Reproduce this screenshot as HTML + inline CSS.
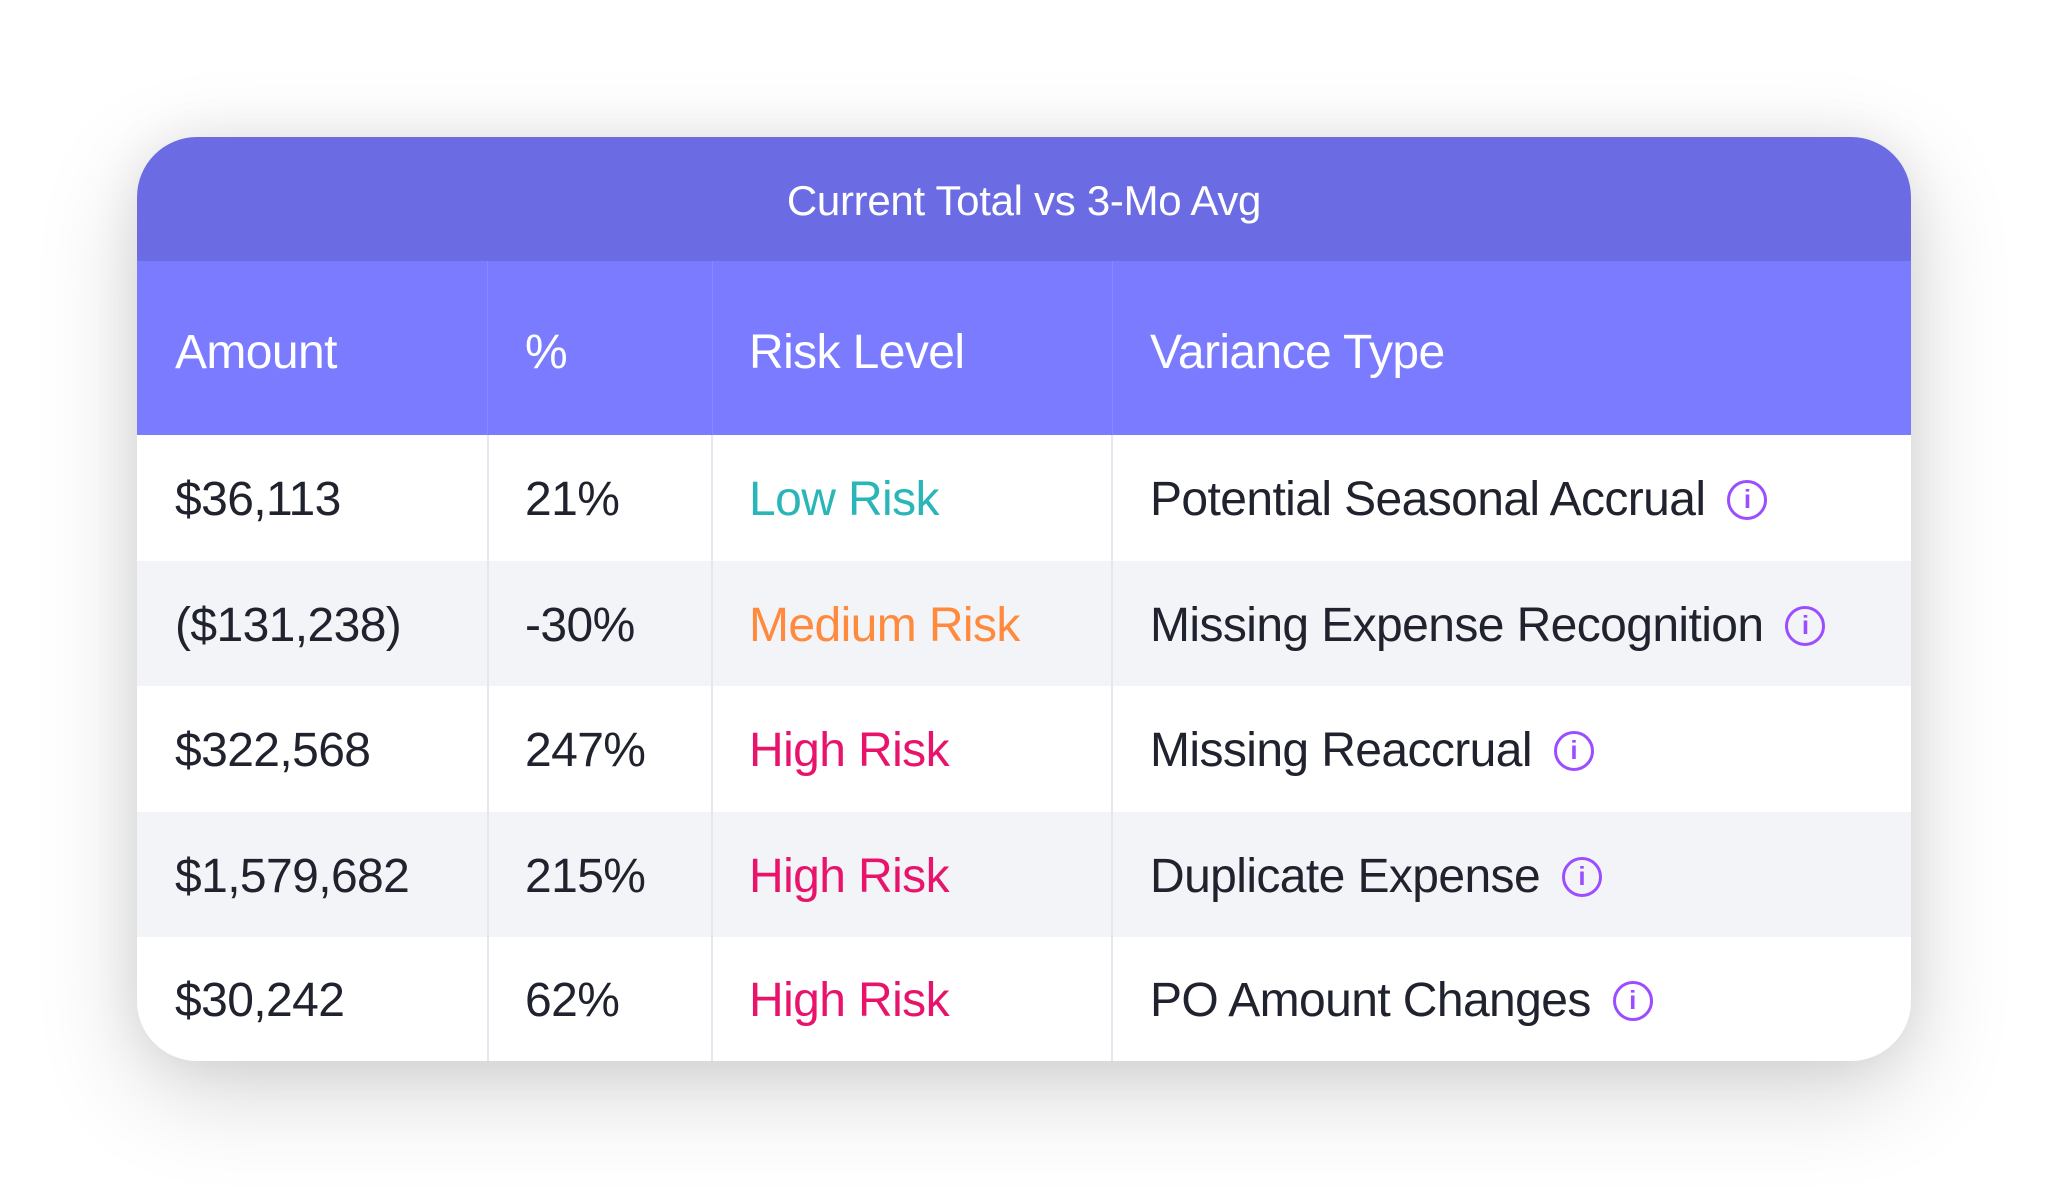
<!DOCTYPE html>
<html><head><meta charset="utf-8"><style>
html,body{margin:0;padding:0;width:2050px;height:1200px;background:#fff;overflow:hidden;font-family:"Liberation Sans",sans-serif;}
.card{position:absolute;left:137px;top:137px;width:1774px;height:924px;border-radius:60px;background:#fff;overflow:hidden;box-shadow:0 30px 100px rgba(0,0,0,0.17),0 0 50px rgba(0,0,0,0.07);}
.title{position:absolute;left:0;top:0;width:1774px;height:124px;background:#6b6ce4;color:#fff;font-size:42px;line-height:128px;text-align:center;letter-spacing:-0.3px;}
.hdr{position:absolute;left:0;top:124px;width:1774px;height:174px;background:#7b7bff;}
.row{position:absolute;left:0;width:1774px;height:125px;}
.alt{background:#f3f4f8;}
.vl{position:absolute;top:298px;width:2px;height:626px;background:#e6e6ee;}
.vh{position:absolute;top:124px;width:1px;height:174px;background:#8a8aff;}
.c{position:absolute;display:flex;align-items:center;font-size:48px;color:#20222e;letter-spacing:-0.6px;white-space:nowrap;}
.h{color:#fff;height:174px;top:128px;}
.low{color:#2ab6b8}.med{color:#ff8a3d}.high{color:#e8146c}
.i{display:inline-block;box-sizing:border-box;width:40px;height:40px;border:3.5px solid #9b4dff;border-radius:50%;color:#9b4dff;font-size:26px;font-weight:bold;line-height:33px;text-align:center;margin-left:22px;letter-spacing:0;}
</style></head><body>
<div class="card">
<div class="title">Current Total vs 3-Mo Avg</div>
<div class="hdr"></div>
<div class="row" style="top:298px"></div>
<div class="row alt" style="top:424px"></div>
<div class="row" style="top:549px"></div>
<div class="row alt" style="top:675px"></div>
<div class="row" style="top:799px"></div>
<div class="vh" style="left:350px"></div>
<div class="vh" style="left:575px"></div>
<div class="vh" style="left:975px"></div>
<div class="vl" style="left:350px"></div>
<div class="vl" style="left:574px"></div>
<div class="vl" style="left:974px"></div>

<div class="c h" style="left:38px;">Amount</div>
<div class="c h" style="left:388px;">%</div>
<div class="c h" style="left:612px;">Risk Level</div>
<div class="c h" style="left:1013px;">Variance Type</div>

<div class="c" style="left:38px;top:300px;height:125px">$36,113</div>
<div class="c" style="left:388px;top:300px;height:125px">21%</div>
<div class="c low" style="left:612px;top:300px;height:125px">Low Risk</div>
<div class="c" style="left:1013px;top:300px;height:125px">Potential Seasonal Accrual<span class="i">i</span></div>

<div class="c" style="left:38px;top:426px;height:125px">($131,238)</div>
<div class="c" style="left:388px;top:426px;height:125px">-30%</div>
<div class="c med" style="left:612px;top:426px;height:125px">Medium Risk</div>
<div class="c" style="left:1013px;top:426px;height:125px">Missing Expense Recognition<span class="i">i</span></div>

<div class="c" style="left:38px;top:551px;height:125px">$322,568</div>
<div class="c" style="left:388px;top:551px;height:125px">247%</div>
<div class="c high" style="left:612px;top:551px;height:125px">High Risk</div>
<div class="c" style="left:1013px;top:551px;height:125px">Missing Reaccrual<span class="i">i</span></div>

<div class="c" style="left:38px;top:677px;height:125px">$1,579,682</div>
<div class="c" style="left:388px;top:677px;height:125px">215%</div>
<div class="c high" style="left:612px;top:677px;height:125px">High Risk</div>
<div class="c" style="left:1013px;top:677px;height:125px">Duplicate Expense<span class="i">i</span></div>

<div class="c" style="left:38px;top:801px;height:125px">$30,242</div>
<div class="c" style="left:388px;top:801px;height:125px">62%</div>
<div class="c high" style="left:612px;top:801px;height:125px">High Risk</div>
<div class="c" style="left:1013px;top:801px;height:125px">PO Amount Changes<span class="i">i</span></div>
</div>
</body></html>
